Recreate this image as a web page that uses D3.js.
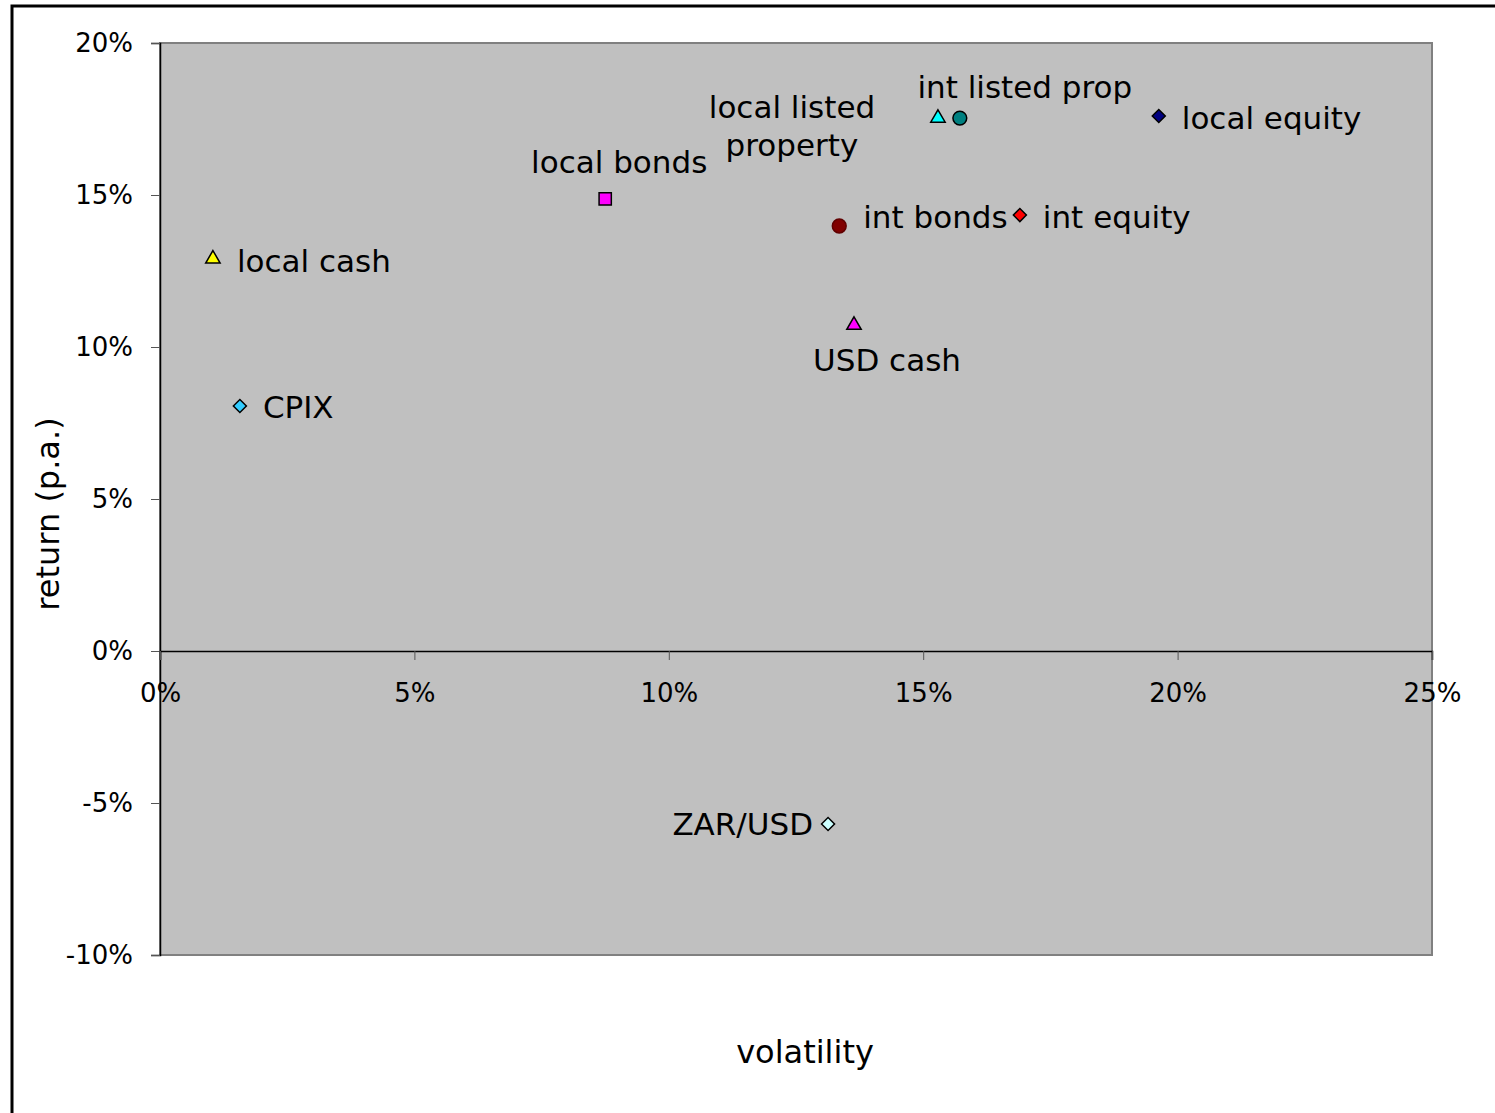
<!DOCTYPE html>
<html>
<head>
<meta charset="utf-8">
<script src="https://cdn.jsdelivr.net/npm/d3@7"></script>
<style>
  body { margin: 0; background: #fff; }
  svg { display: block; }
  text { font-family: "DejaVu Sans", "Liberation Sans", Arial, sans-serif; fill: #000; }
</style>
</head>
<body>
<div class="chart"></div>
<script>
// Data
var assets = ["local cash", "CPIX", "local bonds", "local listed property", "int listed prop",
              "local equity", "int bonds", "int equity", "USD cash", "ZAR/USD"];
var volatility = [0.0104, 0.0157, 0.0875, 0.1529, 0.1572, 0.1963, 0.1335, 0.1690, 0.1364, 0.1313];
var returns    = [0.129, 0.0806, 0.1487, 0.1753, 0.1753, 0.1760, 0.1398, 0.1434, 0.1072, -0.0569];
var xTicks = [0, 0.05, 0.10, 0.15, 0.20, 0.25];
var yTicks = [-0.10, -0.05, 0, 0.05, 0.10, 0.15, 0.20];

// Marker styles, one per asset
var shapes = ["triangle", "diamond", "square", "triangle", "circle", "diamond", "circle", "diamond", "triangle", "diamond"];
var colors = ["#ffff00", "#33ccff", "#ff00ff", "#00ffff", "#008080", "#000080", "#800000", "#ff0000", "#ff00ff", "#ccffff"];

// Label placement relative to marker (dx, dy, anchor)
var labelPos = [
  [24, 2, "start"], [23, 1, "start"], [14, -37, "middle"], [-146, 8, "middle"], [65, -31, "middle"],
  [23, 2, "start"], [24, -9, "start"], [23, 2, "start"], [33, 35, "middle"], [-15, 0, "end"]
];

var width = 1495,
  height = 1113,
  plotL = 160, plotR = 1432, plotT = 43, plotB = 955;

var svg = d3.select(".chart").append("svg")
  .attr("width", width)
  .attr("height", height);

// outer frame
svg.append("rect")
  .attr("x", 12).attr("y", 6)
  .attr("width", width + 20).attr("height", height + 20)
  .attr("fill", "none").attr("stroke", "#000").attr("stroke-width", 3);

var x = d3.scaleLinear().domain([0, 0.25]).range([plotL, plotR]);
var y = d3.scaleLinear().domain([-0.10, 0.20]).range([plotB, plotT]);
var pct = function(v) { return Math.round(v * 100) + "%"; };

// plot area
svg.append("rect")
  .attr("x", plotL).attr("y", plotT)
  .attr("width", plotR - plotL).attr("height", plotB - plotT)
  .attr("fill", "#c0c0c0").attr("stroke", "#808080").attr("stroke-width", 2);

// y axis
var yAxis = svg.append("g")
  .attr("transform", "translate(" + plotL + ",0)")
  .call(d3.axisLeft(y).tickValues(yTicks).tickFormat(pct).tickSize(9).tickPadding(18));
yAxis.select(".domain").attr("stroke", "#000").attr("stroke-width", 1.5);
yAxis.selectAll(".tick line").attr("stroke", "#555");
yAxis.selectAll("text").style("font-size", "26px").attr("fill", "#000")
  .attr("font-family", "'DejaVu Sans', sans-serif");

// x axis sits on the zero line
var xAxis = svg.append("g")
  .attr("transform", "translate(0," + y(0) + ")")
  .call(d3.axisBottom(x).tickValues(xTicks).tickFormat(pct).tickSize(9).tickPadding(24));
xAxis.select(".domain").attr("stroke", "#000").attr("stroke-width", 1.5);
xAxis.selectAll(".tick line").attr("stroke", "#555");
xAxis.selectAll("text").style("font-size", "26px").attr("fill", "#000")
  .attr("font-family", "'DejaVu Sans', sans-serif");

// axis titles
svg.append("text")
  .attr("transform", "translate(48," + 514 + ") rotate(-90)")
  .attr("text-anchor", "middle").attr("dominant-baseline", "central")
  .style("font-size", "32px")
  .text("return (p.a.)");
svg.append("text")
  .attr("x", 805).attr("y", 1052)
  .attr("text-anchor", "middle").attr("dominant-baseline", "central")
  .style("font-size", "32px")
  .text("volatility");

var symbolType = {
  triangle: d3.symbolTriangle,
  diamond: d3.symbolSquare,
  square: d3.symbolSquare,
  circle: d3.symbolCircle
};
var symbolSize = { triangle: 90, diamond: 85, square: 150, circle: 150 };

var points = assets.map(function(name, i) {
  return { name: name, vol: volatility[i], ret: returns[i], shape: shapes[i], color: colors[i], lp: labelPos[i] };
});

svg.append("g").selectAll("path")
  .data(points)
  .enter().append("path")
    .attr("transform", function(d) {
      return "translate(" + x(d.vol) + "," + y(d.ret) + ")" + (d.shape === "diamond" ? " rotate(45)" : "");
    })
    .attr("d", function(d) { return d3.symbol().type(symbolType[d.shape]).size(symbolSize[d.shape])(); })
    .attr("fill", function(d) { return d.color; })
    .attr("stroke", function(d) { return d.name === "int bonds" ? "#600000" : "#000"; })
    .attr("stroke-width", 1.5);

// labels
var labels = svg.append("g").selectAll("text")
  .data(points)
  .enter().append("text")
    .attr("x", function(d) { return x(d.vol) + d.lp[0]; })
    .attr("y", function(d) { return y(d.ret) + d.lp[1]; })
    .attr("text-anchor", function(d) { return d.lp[2]; })
    .attr("dominant-baseline", "central")
    .style("font-size", "31px");

labels.each(function(d) {
  var t = d3.select(this);
  if (d.name === "local listed property") {
    t.append("tspan").attr("x", x(d.vol) + d.lp[0]).attr("dy", "-0.62em").text("local listed");
    t.append("tspan").attr("x", x(d.vol) + d.lp[0]).attr("dy", "1.24em").text("property");
  } else {
    t.text(d.name);
  }
});
</script>
</body>
</html>
